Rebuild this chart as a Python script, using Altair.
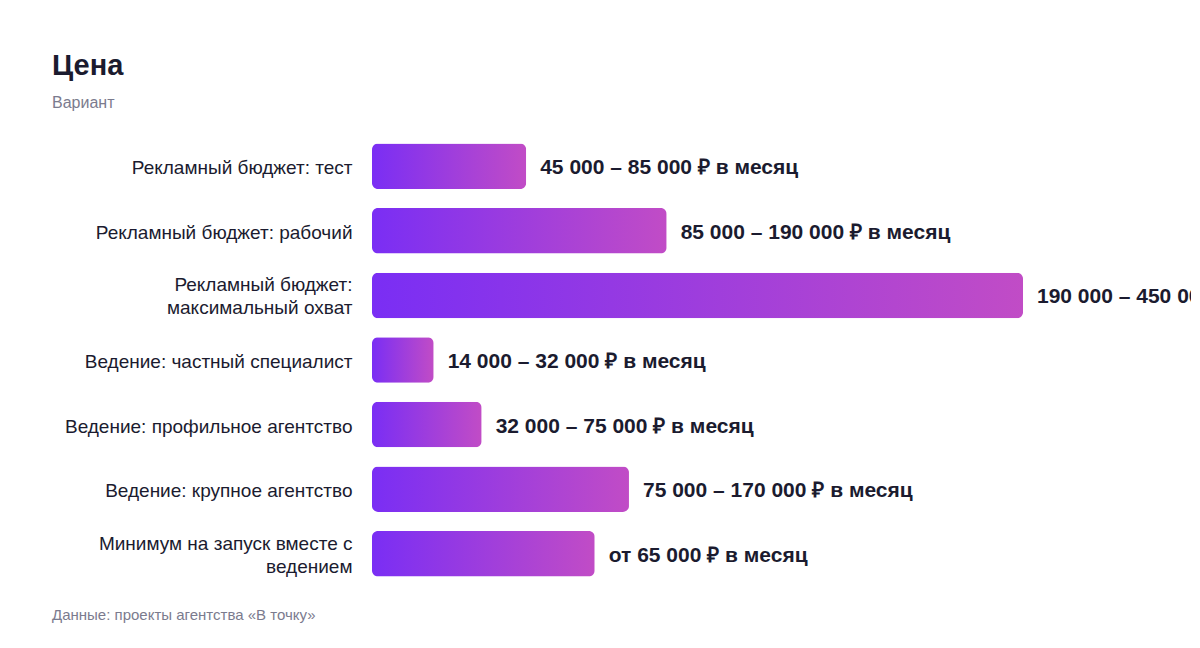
import altair as alt
import pandas as pd

categories = [
    "Рекламный бюджет: тест",
    "Рекламный бюджет: рабочий",
    "Рекламный бюджет:\nмаксимальный охват",
    "Ведение: частный специалист",
    "Ведение: профильное агентство",
    "Ведение: крупное агентство",
    "Минимум на запуск вместе с\nведением",
]
values = [45000, 86000, 190000, 18000, 32000, 75000, 65000]
value_labels = [
    "45 000 – 85 000 ₽ в месяц",
    "85 000 – 190 000 ₽ в месяц",
    "190 000 – 450 000 ₽ в месяц",
    "14 000 – 32 000 ₽ в месяц",
    "32 000 – 75 000 ₽ в месяц",
    "75 000 – 170 000 ₽ в месяц",
    "от 65 000 ₽ в месяц",
]
title_text = "Цена"
subtitle_text = "Вариант"
footer_text = "Данные: проекты агентства «В точку»"

df = pd.DataFrame({"cat": categories, "val": values, "lab": value_labels})

FONT = "Liberation Sans"
DARK = "#1b1b2f"
GRAY = "#7b7b8e"

y_enc = alt.Y(
    "cat:N",
    sort=None,
    title=None,
    scale=alt.Scale(paddingInner=0.295, paddingOuter=0.1475),
    axis=alt.Axis(
        labelExpr="split(datum.label, '\\n')",
        labelFontSize=19,
        labelColor=DARK,
        labelPadding=20,
        labelLimit=500,
        labelLineHeight=23,
        labelOffset={"condition": {"test": "indexof(datum.value, '\\n') >= 0", "value": -10}, "value": 2},
        ticks=False,
        domain=False,
        grid=False,
    ),
)
x_enc = alt.X(
    "val:Q",
    title=None,
    axis=None,
    scale=alt.Scale(domain=[0, 190000], nice=False, zero=True),
)

bars = alt.Chart(df).mark_bar(
    cornerRadius=6,
    color=alt.Gradient(
        gradient="linear",
        stops=[
            alt.GradientStop(color="#7A2EF4", offset=0),
            alt.GradientStop(color="#C14CC6", offset=1),
        ],
        x1=0, x2=1, y1=0, y2=0,
    ),
).encode(x=x_enc, y=y_enc)

texts = alt.Chart(df).mark_text(
    align="left", baseline="middle", dx=14, dy=2, fontSize=21, fontWeight="bold", color=DARK, font=FONT
).encode(x=x_enc, y=y_enc, text="lab:N")

footer = alt.Chart(pd.DataFrame({"t": [footer_text]})).mark_text(
    align="left", baseline="middle", fontSize=15, color=GRAY, font=FONT
).encode(text="t:N", x=alt.value(-320), y=alt.value(481))

chart = alt.layer(bars, texts, footer).properties(
    width=651,
    height=452,
    autosize=alt.AutoSizeParams(type="none"),
    padding={"left": 364, "top": 126, "right": 168, "bottom": 50},
    title=alt.TitleParams(
        text=title_text,
        subtitle=subtitle_text,
        anchor="start",
        frame="group",
        dx=-320,
        offset=23,
        fontSize=29,
        fontWeight="bold",
        color=DARK,
        font=FONT,
        subtitleFontSize=16,
        subtitleColor=GRAY,
        subtitleFont=FONT,
        subtitlePadding=14,
    ),
).configure(font=FONT).configure_view(stroke=None)

chart.save("out.html", embed_options={"renderer": "svg", "actions": False})
